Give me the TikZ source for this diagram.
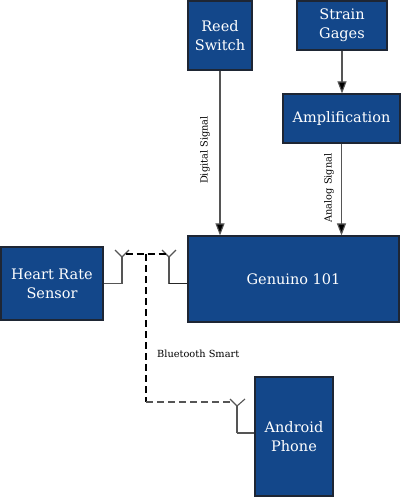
\documentclass[tikz,border=0pt]{standalone}
\usepackage{fontspec}
\setmainfont{DejaVu Serif}
\usetikzlibrary{arrows.meta}
\definecolor{boxblue}{RGB}{19,71,138}
\definecolor{boxedge}{RGB}{30,38,52}
\definecolor{linegray}{RGB}{85,85,85}
\tikzset{
  blk/.style={draw=boxedge, line width=1.2pt, fill=boxblue, text=white, align=center,
    inner sep=0pt, font=\fontsize{14.5}{19}\selectfont},
  sig/.style={draw=linegray, line width=1.1pt, -{Triangle[length=12pt,width=9pt,fill=black]}},
  ant/.style={draw=linegray, line width=1.1pt},
  wire/.style={draw=black!85, line width=1.1pt},
  bt/.style={draw=black, line width=1.1pt, dash pattern=on 7pt off 4pt},
  btg/.style={draw=linegray, line width=1.1pt, dash pattern=on 7pt off 4pt},
  lbl/.style={font=\fontsize{9.8}{11}\selectfont, text=black, inner sep=0pt},
}
\begin{document}
\begin{tikzpicture}[x=1pt,y=-1pt]
\useasboundingbox (0,0) rectangle (402,498);
\fill[white] (0,0) rectangle (402,498);
% boxes
\node[blk, minimum width=64pt, minimum height=69pt] (reed) at (220,35.5) {Reed\\Switch};
\node[blk, minimum width=90pt, minimum height=49pt] (strain) at (342,25.5) {Strain\\Gages};
\node[blk, minimum width=117pt, minimum height=49pt] (amp) at (341.5,118.5) {Amplification};
\node[blk, minimum width=211pt, minimum height=86pt] (gen) at (293.5,279) {Genuino 101};
\node[blk, minimum width=102pt, minimum height=73pt] (heart) at (52,283.5) {Heart Rate\\Sensor};
\node[blk, minimum width=78pt, minimum height=119pt] (phone) at (294,436.5) {Android\\Phone};
% signal arrows
\draw[sig] (reed.south) -- (reed.south |- gen.north);
\draw[sig] (strain.south) -- (strain.south |- amp.north);
\draw[sig] (amp.south) -- (amp.south |- gen.north);
\node[lbl, rotate=90] (dig) at (205,150) {Digital Signal};
\node[lbl, rotate=90] (ana) at (329,188) {Analog Signal};
% antennas
\coordinate (hA) at (122,283.5);
\coordinate (hV) at (122,257);
\coordinate (hL) at (115,250);
\coordinate (hR) at (129,250);
\coordinate (hD) at (125.5,254);
\coordinate (gA) at (169,283.5);
\coordinate (gV) at (169,257);
\coordinate (gL) at (162,250);
\coordinate (gR) at (176,250);
\coordinate (gD) at (165.5,254);
\coordinate (pA) at (237,433);
\coordinate (pV) at (237,406);
\coordinate (pL) at (230,399);
\coordinate (pR) at (245,399);
\coordinate (pD) at (232.5,402);
\coordinate (bT) at (146,254);
\coordinate (bB) at (146,402);
\draw[ant] (heart.east |- hA) -- (hA) -- (hV);
\draw[ant] (hL) -- (hV) -- (hR);
\draw[ant] (gA) -- (gV);
\draw[wire] (gA) -- (gen.west |- gA);
\draw[ant] (gL) -- (gV) -- (gR);
\draw[ant] (pA) -- (pV);
\draw[ant] (pA) -- (phone.west |- pA);
\draw[ant] (pL) -- (pV) -- (pR);
% bluetooth dashed
\draw[bt] (hD) -- (gD);
\draw[bt] (bT) -- (bB);
\draw[btg] (bB) -- (pD);
\node[lbl, anchor=west] (bts) at (157,354) {Bluetooth Smart};
\end{tikzpicture}
\end{document}
